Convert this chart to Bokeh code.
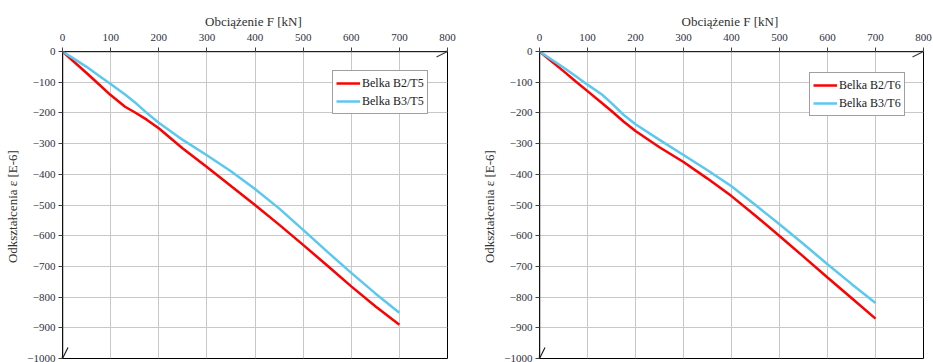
from bokeh.plotting import figure
from bokeh.layouts import row
from bokeh.models import Arrow, OpenHead, Legend, LegendItem, FixedTicker
from bokeh.embed import file_html
from bokeh.resources import INLINE

F = [0, 25, 50, 75, 100, 130, 150, 175, 200, 250, 300, 350, 400, 450, 500, 550, 600, 650, 700]

# Left chart (T5)
b2_t5 = [0, -35, -70, -106, -142, -180, -198, -222, -250, -316, -376, -438, -500, -564, -630, -697, -765, -830, -890]
b3_t5 = [0, -25, -50, -78, -106, -140, -165, -200, -232, -288, -338, -390, -448, -511, -581, -652, -721, -788, -851]

# Right chart (T6)
b2_t6 = [0, -32, -64, -97, -129, -168, -194, -228, -259, -312, -360, -414, -471, -535, -601, -668, -736, -803, -870]
b3_t6 = [0, -26, -52, -80, -108, -140, -168, -206, -237, -288, -337, -387, -439, -500, -563, -627, -693, -757, -819]

x_ticks = [0, 100, 200, 300, 400, 500, 600, 700, 800]
y_ticks = [0, -100, -200, -300, -400, -500, -600, -700, -800, -900, -1000]

x_title = "Obciążenie  F [kN]"
y_title = "Odkształcenia  ε [E-6]"

RED = "#ff0000"
BLUE = "#5bc8f0"
SERIF = "'Liberation Serif', 'Times New Roman', serif"


def make_chart(width, bl, br, bt, bb, red, blue, red_name, blue_name, leg_x, leg_y, ylab_standoff):
    p = figure(width=width, height=362, x_range=(0, 800), y_range=(-1000, 0),
               x_axis_location="above", output_backend="svg", toolbar_location=None,
               min_border_left=bl, min_border_right=br, min_border_top=bt, min_border_bottom=bb)
    p.background_fill_color = "white"
    p.border_fill_color = "white"
    p.outline_line_color = "#000000"
    p.outline_line_width = 1

    for ax in (p.xaxis[0], p.yaxis[0]):
        ax.axis_line_color = None
        ax.major_tick_line_color = "#404040"
        ax.major_tick_out = 4
        ax.major_tick_in = 0
        ax.minor_tick_line_color = None
        ax.major_label_text_font = SERIF
        ax.major_label_text_font_size = "11px"
        ax.major_label_text_color = "#303040"
        ax.axis_label_text_font = SERIF
        ax.axis_label_text_font_size = "13px"
        ax.axis_label_text_font_style = "normal"
        ax.axis_label_text_color = "#303030"
    p.xaxis[0].ticker = FixedTicker(ticks=x_ticks)
    p.yaxis[0].ticker = FixedTicker(ticks=y_ticks)
    p.xaxis[0].axis_label = x_title
    p.yaxis[0].axis_label = y_title
    p.xaxis[0].major_label_standoff = 7
    p.xaxis[0].axis_label_standoff = 2
    p.yaxis[0].major_label_standoff = 3
    p.yaxis[0].axis_label_standoff = ylab_standoff

    p.xgrid.ticker = FixedTicker(ticks=x_ticks)
    p.ygrid.ticker = FixedTicker(ticks=y_ticks)
    p.xgrid.grid_line_color = "#c8c8c8"
    p.ygrid.grid_line_color = "#c8c8c8"
    p.xgrid.grid_line_width = 1
    p.ygrid.grid_line_width = 1

    r1 = p.line(F, red, line_color=RED, line_width=2.5)
    r2 = p.line(F, blue, line_color=BLUE, line_width=2.5)

    p.add_layout(Arrow(end=OpenHead(size=11, line_width=1.2, line_color="#404040"),
                       x_start=0, y_start=0, x_end=800, y_end=0,
                       line_color="#404040", line_width=1.5))
    p.add_layout(Arrow(end=OpenHead(size=11, line_width=1.2, line_color="#202020"),
                       x_start=0, y_start=0, x_end=0, y_end=-1000,
                       line_color="#202020", line_width=1.5))

    leg = Legend(items=[LegendItem(label=red_name, renderers=[r1]),
                        LegendItem(label=blue_name, renderers=[r2])],
                 location=(leg_x, leg_y))
    leg.label_text_font = SERIF
    leg.label_text_font_size = "12px"
    leg.label_text_color = "#202020"
    leg.glyph_width = 24
    leg.glyph_height = 18
    leg.label_height = 18
    leg.label_standoff = 2
    leg.padding = 3
    leg.spacing = 0
    leg.margin = 0
    leg.border_line_color = "#404040"
    leg.border_line_width = 1.5
    leg.background_fill_color = "white"
    leg.background_fill_alpha = 1
    p.add_layout(leg, "center")
    return p


p1 = make_chart(466, 62, 19, 51, 3, b2_t5, b3_t5, "Belka B2/T5", "Belka B3/T5", 270, 244, 4)
p2 = make_chart(467, 73, 10, 49, 4, b2_t6, b3_t6, "Belka B2/T6", "Belka B3/T6", 270, 242, 4)

layout = row(p1, p2, spacing=0)
open("out.html", "w").write(file_html(layout, INLINE))
